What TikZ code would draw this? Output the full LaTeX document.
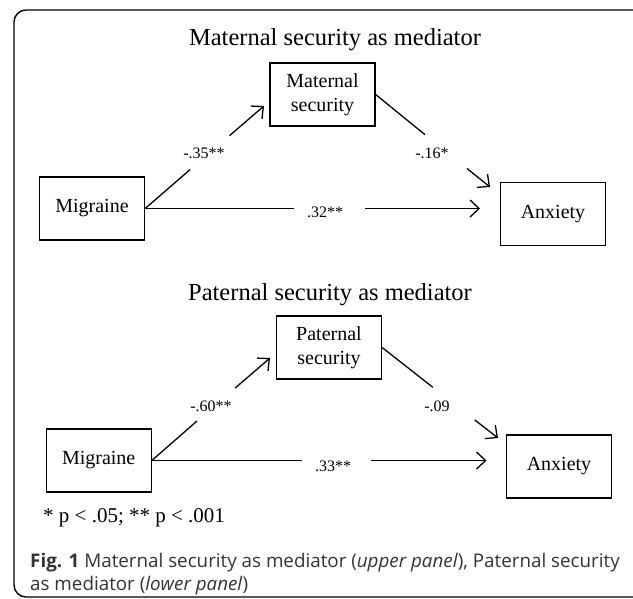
\documentclass[tikz,border=0pt]{standalone}
\usepackage{fontspec}
\setmainfont{Liberation Serif}
\newfontfamily\capfont{Open Sans}
\usetikzlibrary{arrows.meta}
\begin{document}
\begin{tikzpicture}[x=1pt,y=-1pt,
  box/.style={draw, line width=1.3pt, minimum width=105pt, minimum height=63pt, align=center, inner sep=0pt, font=\fontsize{20}{24}\selectfont},
  ttl/.style={font=\fontsize{24.5}{28}\selectfont, inner sep=0pt},
  lbl/.style={font=\fontsize{16}{18}\selectfont, inner sep=0pt},
  conn/.style={line width=1.3pt},
  arr/.style={conn, -{Straight Barb[length=9pt,width=17pt,line width=1.3pt]}},
  captxt/.style={font=\capfont\fontsize{18.8}{22}\selectfont, text=black!80, inner sep=0pt, anchor=base west},
]
\useasboundingbox (0,0) rectangle (633,599);
\clip (0,0) rectangle (633,599);
\draw[line width=1.4pt, rounded corners=12pt] (14,10) rectangle (660,597);

% upper panel
\node[ttl] (t1) at (335,40) {Maternal security as mediator};
\node[box] (mat1) at (322.5,94.5) {Maternal\\security};
\node[box] (mig1) at (92,208.5) {Migraine};
\node[box] (anx1) at (553,214) {Anxiety};
\coordinate (a1) at (190.2,169.5); \coordinate (b1) at (229.5,135.7); \coordinate (h1) at (264,106);
\coordinate (a2) at (425,134.7); \coordinate (b2) at (467,168.5); \coordinate (h2) at (490,187);
\coordinate (a3) at (294,208.5); \coordinate (b3) at (365,208.5); \coordinate (h3) at (480,208.5);
\draw[conn] (mig1.east) -- (a1);
\draw[arr] (b1) -- (h1);
\draw[conn] (mat1.east) -- (a2);
\draw[arr] (b2) -- (h2);
\draw[conn] (mig1.east) -- (a3);
\draw[arr] (b3) -- (h3);
\node[lbl] (l1) at (204,153) {-.35**};
\node[lbl] (l2) at (432,153) {-.16*};
\node[lbl] (l3) at (325,212) {.32**};

% lower panel
\node[ttl] (t2) at (330,295) {Paternal security as mediator};
\node[box] (pat) at (329,347.5) {Paternal\\security};
\node[box] (mig2) at (98.7,460.5) {Migraine};
\node[box] (anx2) at (559,466.5) {Anxiety};
\coordinate (a4) at (197,421); \coordinate (b4) at (235.1,388.1); \coordinate (h4) at (270,358);
\coordinate (a5) at (432.8,387.3); \coordinate (b5) at (474.7,419.9); \coordinate (h5) at (498,438);
\coordinate (a6) at (301.6,460.5); \coordinate (b6) at (371,460.5); \coordinate (h6) at (486.5,460.5);
\draw[conn] (mig2.east) -- (a4);
\draw[arr] (b4) -- (h4);
\draw[conn] (pat.east) -- (a5);
\draw[arr] (b5) -- (h5);
\draw[conn] (mig2.east) -- (a6);
\draw[arr] (b6) -- (h6);
\node[lbl] (l4) at (211,406) {-.60**};
\node[lbl] (l5) at (437,406) {-.09};
\node[lbl] (l6) at (333,466) {.33**};

\node[font=\fontsize{21}{24}\selectfont, anchor=west, inner sep=0pt] (note) at (43,518) {* p < .05; ** p < .001};

\node[captxt] (cap1) at (30,567) {\textbf{Fig. 1} Maternal security as mediator (\textit{upper panel}), Paternal security};
\node[captxt] (cap2) at (30,590) {as mediator (\textit{lower panel})};
\end{tikzpicture}
\end{document}
